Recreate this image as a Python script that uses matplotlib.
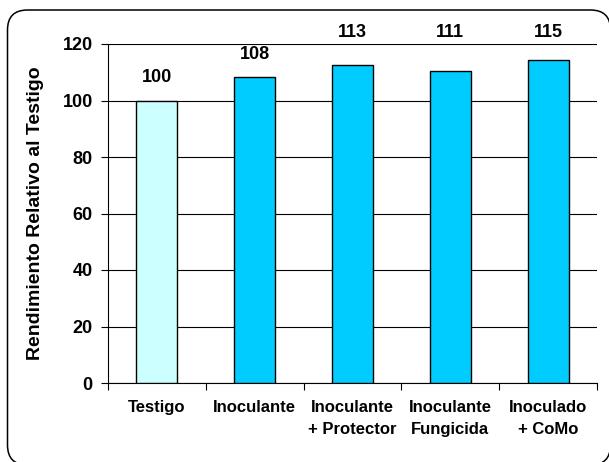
import matplotlib
matplotlib.use("Agg")
import matplotlib.pyplot as plt
from matplotlib.patches import FancyBboxPatch
from matplotlib.transforms import IdentityTransform
import numpy as np

categories = ["Testigo", "Inoculante", "Inoculante\n+ Protector", "Inoculante\nFungicida", "Inoculado\n+ CoMo"]
values = [100, 108.2, 112.7, 110.5, 114.4]
value_labels = ["100", "108", "113", "111", "115"]
colors = ["#CCFFFF", "#00CCFF", "#00CCFF", "#00CCFF", "#00CCFF"]

plt.rcParams['font.family'] = ['Liberation Sans', 'DejaVu Sans']
plt.rcParams['font.weight'] = 'bold'

fig = plt.figure(figsize=(6.09, 4.62), dpi=100)
border = FancyBboxPatch((7.5, -3), 603, 455,
                        boxstyle="round,pad=0,rounding_size=20",
                        transform=IdentityTransform(), facecolor="white",
                        edgecolor="black", linewidth=1.1, zorder=-10)
fig.patches.append(border)
ax = fig.add_axes([108/609, (462-383)/462, (597-108)/609, (383-44)/462])
ax.set_facecolor("none")
ax.set_zorder(5)

x = np.arange(len(categories))
bars = ax.bar(x, values, width=0.42, color=colors, edgecolor="black", linewidth=1.0, zorder=3)
ymax = 120
for xi, v, lab in zip(x, values, value_labels):
    ypos = v + 8.2
    if ypos > ymax - 2:
        ypos = ymax + 3.9  # labels that would hit the top line sit above the plot area
    ax.text(xi, ypos, lab, ha="center", va="center", fontsize=13, fontweight="bold", clip_on=False)

ax.set_xlim(-0.5, len(categories) - 0.5)
ax.set_ylim(0, ymax)
ax.set_yticks(np.arange(0, 121, 20))
ax.yaxis.grid(True, color="black", linewidth=0.8, zorder=0)
ax.set_axisbelow(True)
for s in ["top", "right"]:
    ax.spines[s].set_visible(False)
ax.spines["left"].set_linewidth(0.8)
ax.spines["bottom"].set_linewidth(0.8)

ax.set_xticks(np.arange(-0.5, len(categories)), minor=False)
ax.set_xticklabels([])
ax.set_xticks(x, minor=True)
ax.set_xticklabels(categories, minor=True, fontsize=12, fontweight="bold", linespacing=1.6, va="top")
ax.tick_params(axis="x", which="minor", length=0, pad=12)
ax.tick_params(axis="x", which="major", length=5, direction="out", width=0.8)
ax.tick_params(axis="y", length=5, direction="out", width=0.8, labelsize=13, pad=6)
for t in ax.get_yticklabels():
    t.set_fontweight("bold")

ax.set_ylabel("Rendimiento Relativo al Testigo", fontsize=14, fontweight="bold", labelpad=13)

fig.savefig("out.png", dpi=100)
